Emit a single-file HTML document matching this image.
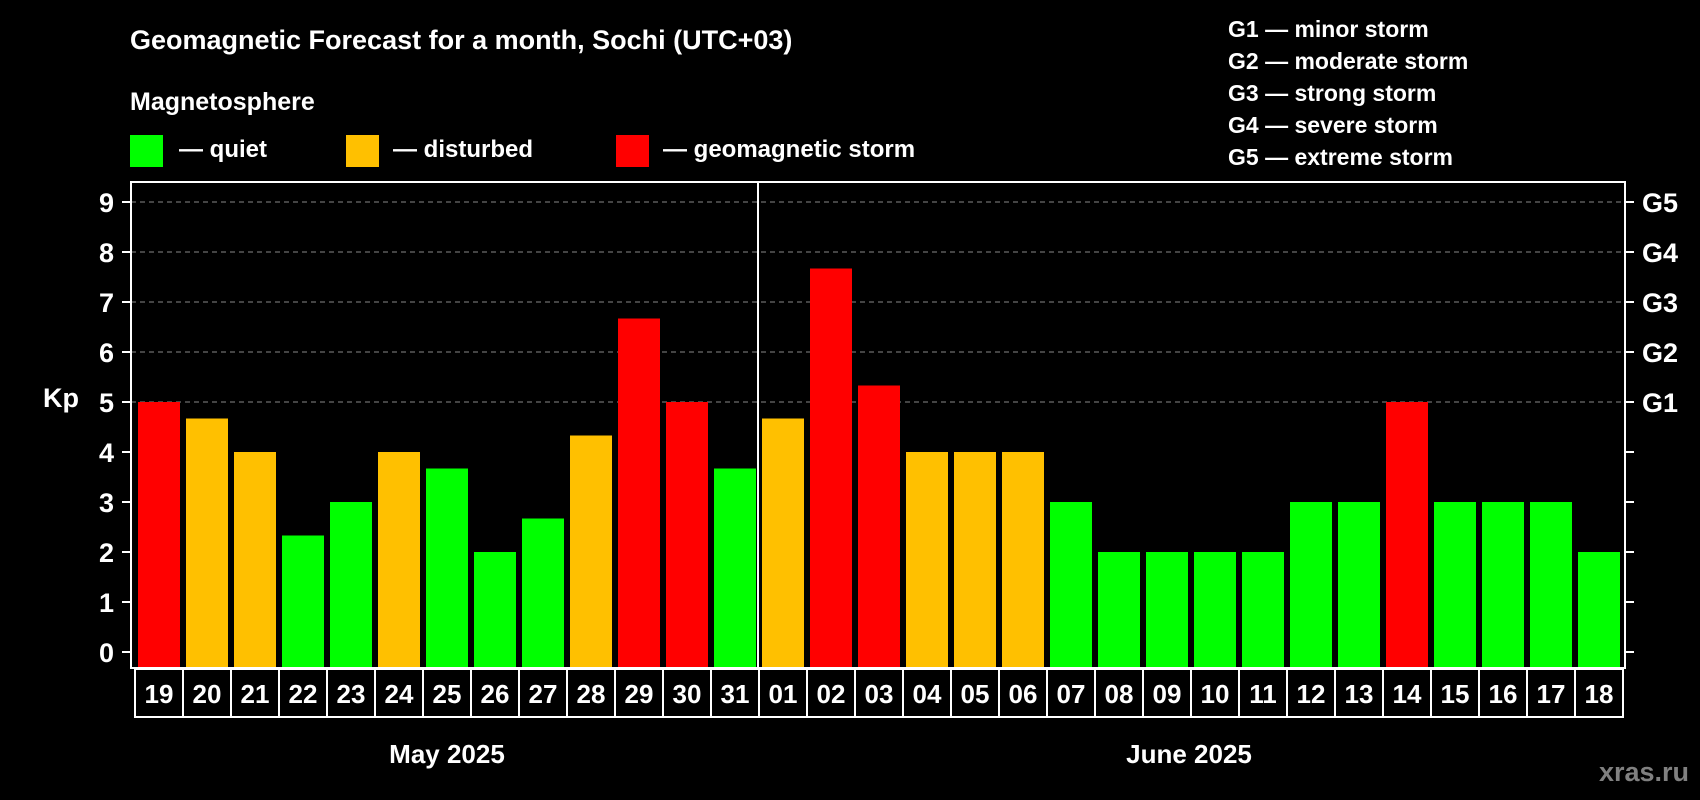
<!DOCTYPE html>
<html><head><meta charset="utf-8"><style>
html,body{margin:0;padding:0;background:#000;}
svg{display:block;font-family:"Liberation Sans",Arial,sans-serif;font-weight:bold;}
</style></head><body>
<svg id="chart" width="1700" height="800" viewBox="0 0 1700 800" xmlns="http://www.w3.org/2000/svg">
<rect width="1700" height="800" fill="#000"/>
<text x="130" y="49" fill="#fff" font-size="27">Geomagnetic Forecast for a month, Sochi (UTC+03)</text>
<text x="130" y="110" fill="#fff" font-size="25">Magnetosphere</text>
<g><rect x="130" y="135" width="33" height="32" fill="#00ff00"/><text x="179" y="157" fill="#fff" font-size="24">— quiet</text></g>
<g><rect x="346" y="135" width="33" height="32" fill="#ffc000"/><text x="393" y="157" fill="#fff" font-size="24">— disturbed</text></g>
<g><rect x="616" y="135" width="33" height="32" fill="#ff0000"/><text x="663" y="157" fill="#fff" font-size="24">— geomagnetic storm</text></g>
<g fill="#fff" font-size="23">
<text x="1228" y="37">G1 — minor storm</text>
<text x="1228" y="69">G2 — moderate storm</text>
<text x="1228" y="101">G3 — strong storm</text>
<text x="1228" y="133">G4 — severe storm</text>
<text x="1228" y="165">G5 — extreme storm</text>
</g>
<g id="grid"></g>
<g id="bars"></g>
<g id="axes"></g>
<text x="43" y="407" fill="#fff" font-size="27">Kp</text>
<text x="447" y="763" fill="#fff" font-size="26" text-anchor="middle">May 2025</text>
<text x="1189" y="763" fill="#fff" font-size="26" text-anchor="middle">June 2025</text>
<text x="1689" y="781" fill="#808080" font-size="27" text-anchor="end">xras.ru</text>
</svg>
<script>
const days = ["19","20","21","22","23","24","25","26","27","28","29","30","31","01","02","03","04","05","06","07","08","09","10","11","12","13","14","15","16","17","18"];
const kpValues = [5,4.67,4,2.33,3,4,3.67,2,2.67,4.33,6.67,5,3.67,4.67,7.67,5.33,4,4,4,3,2,2,2,2,3,3,5,3,3,3,2];
const yTicks = [0,1,2,3,4,5,6,7,8,9];
const gLabels = ["","","","","","G1","G2","G3","G4","G5"];
const NS="http://www.w3.org/2000/svg";
const L=131,R=1625,T=182,B=668,slot0=134,pitch=48;
const y=v=>652-v*50;
const x=i=>slot0+i*pitch;
function mk(tag,attrs,parent,txt){const e=document.createElementNS(NS,tag);for(const k in attrs)e.setAttribute(k,attrs[k]);if(txt!==undefined)e.textContent=txt;parent.appendChild(e);return e;}
const grid=document.getElementById('grid'),bars=document.getElementById('bars'),axes=document.getElementById('axes');
yTicks.forEach(t=>{
  if(t>=5){const g=mk('line',{x1:L,x2:R,y1:y(t),y2:y(t),stroke:'#888','stroke-dasharray':'5,4','stroke-width':1},grid);
  
  }
  const tl=mk('line',{x1:L-9,x2:L,y1:y(t),y2:y(t),stroke:'#fff','stroke-width':2},axes);
  
  
  const tr=mk('line',{x1:R,x2:R+9,y1:y(t),y2:y(t),stroke:'#fff','stroke-width':2},axes);
  
  
  const lb=mk('text',{x:114,y:y(t)+10,fill:'#fff','font-size':27,'text-anchor':'end'},axes,String(t));
  
  
  if(gLabels[t]){const gl=mk('text',{x:1642,y:y(t)+10,fill:'#fff','font-size':27},axes,gLabels[t]);
  
  }
});
kpValues.forEach((v,i)=>{
  const c=v>=5?'#ff0000':(v>=4?'#ffc000':'#00ff00');
  const b=mk('rect',{x:x(i)+4,y:y(v),width:42,height:B-y(v),fill:c},bars);
  
  
  const bx=mk('rect',{x:x(i)+1,y:B+1,width:pitch,height:48,fill:'none',stroke:'#fff','stroke-width':2},axes);
  
  
  const dl=mk('text',{x:x(i)+pitch/2+1,y:B+35,fill:'#fff','font-size':26,'text-anchor':'middle'},axes,days[i]);
  
  
});
const fr=mk('rect',{x:L,y:T,width:R-L,height:B-T,fill:'none',stroke:'#fff','stroke-width':2},axes);


const dv=mk('line',{x1:x(13),x2:x(13),y1:T,y2:B,stroke:'#fff','stroke-width':2},axes);


</script>
</body></html>
